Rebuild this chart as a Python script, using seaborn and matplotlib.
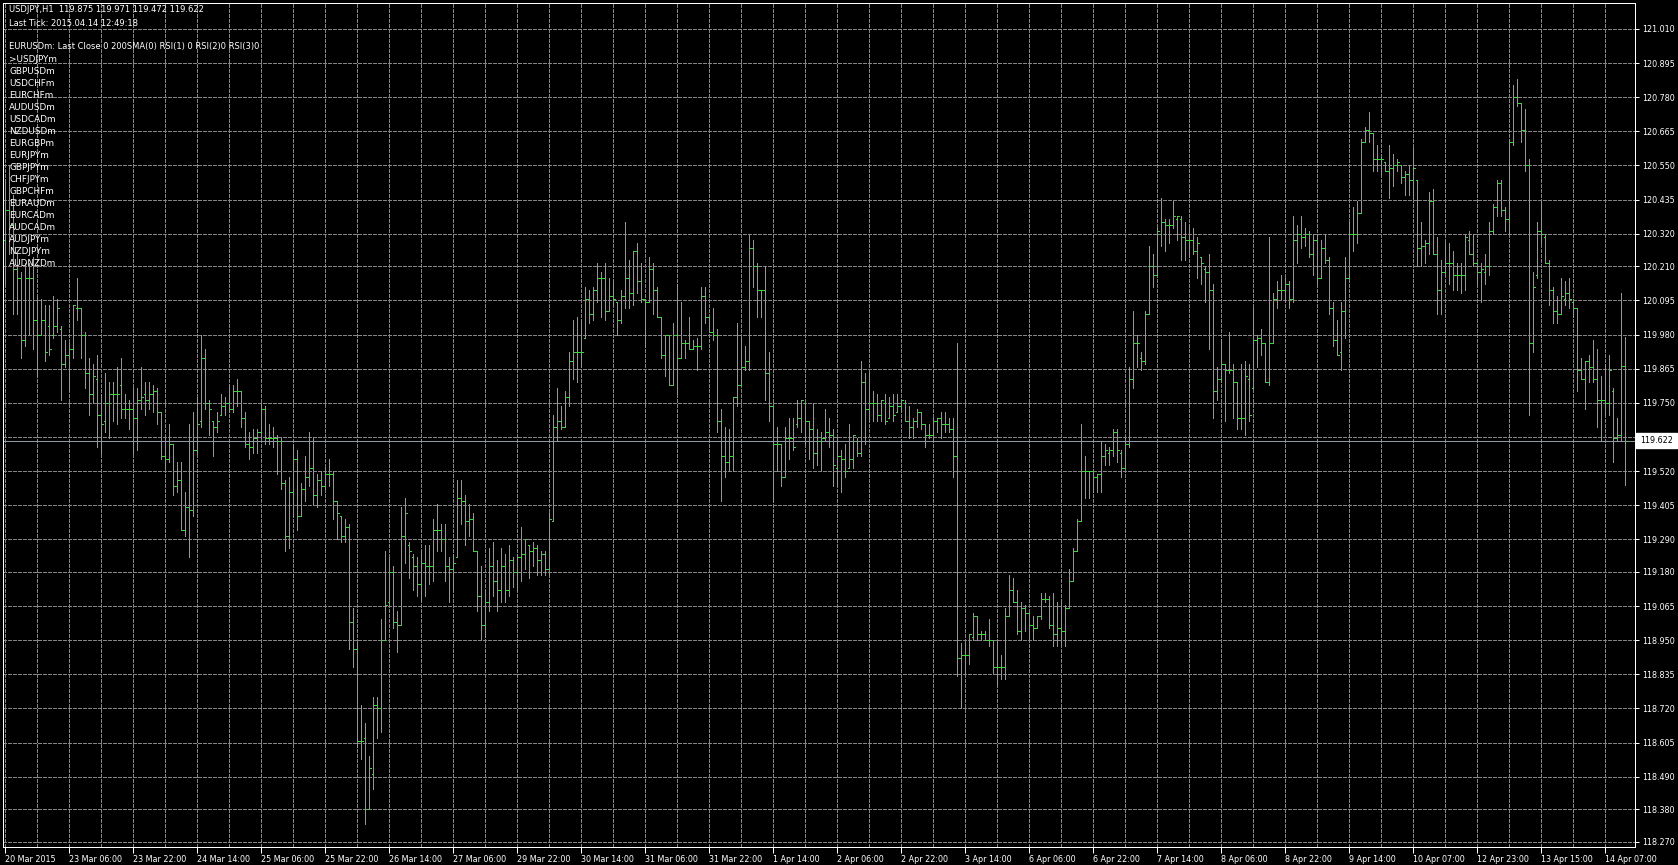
#!/usr/bin/env python

"""
USDJPY H1 bar chart, MetaTrader style (green bars on black).
"""

import matplotlib
matplotlib.use("Agg")
import matplotlib.pyplot as plt
from matplotlib.patches import Rectangle
import numpy as np
import pandas as pd
import seaborn as sns

W, H = 1678, 865

# hourly OHLC, 20 Mar 2015 14:00 -> 14 Apr 2015 12:00
opens = [
    120.30, 120.40, 120.35, 120.20, 120.17, 119.96, 120.17, 120.17, 120.03, 119.98,
    120.03, 120.01, 119.98, 120.01, 120.00, 119.88, 119.91, 119.93, 120.07, 120.07,
    119.98, 119.85, 119.78, 119.83, 119.71, 119.69, 119.75, 119.78, 119.78, 119.81,
    119.73, 119.73, 119.73, 119.70, 119.76, 119.78, 119.76, 119.78, 119.79, 119.72,
    119.57, 119.56, 119.61, 119.47, 119.49, 119.32, 119.40, 119.39, 119.59, 119.69,
    119.90, 119.75, 119.69, 119.67, 119.71, 119.74, 119.75, 119.73, 119.79, 119.79,
    119.70, 119.61, 119.60, 119.63, 119.65, 119.73, 119.63, 119.63, 119.63, 119.62,
    119.48, 119.30, 119.45, 119.56, 119.37, 119.46, 119.50, 119.53, 119.44, 119.49,
    119.47, 119.51, 119.51, 119.42, 119.37, 119.30, 119.33, 119.01, 118.92, 118.61,
    118.62, 118.38, 118.50, 118.73, 118.72, 118.95, 119.08, 119.18, 119.01, 119.00,
    119.30, 119.27, 119.23, 119.20, 119.14, 119.21, 119.20, 119.20, 119.32, 119.32,
    119.29, 119.20, 119.19, 119.23, 119.43, 119.42, 119.35, 119.36, 119.25, 119.10,
    119.00, 119.08, 119.20, 119.15, 119.12, 119.20, 119.12, 119.22, 119.18, 119.23,
    119.24, 119.27, 119.25, 119.26, 119.22, 119.24, 119.19, 119.35, 119.67, 119.69,
    119.67, 119.77, 119.89, 119.92, 119.92, 119.97, 120.10, 120.05, 120.13, 120.17,
    120.17, 120.06, 120.11, 120.09, 120.03, 120.11, 120.17, 120.12, 120.26, 120.16,
    120.10, 120.09, 120.20, 120.13, 120.04, 119.91, 119.98, 119.81, 119.98, 119.90,
    119.95, 119.95, 119.93, 119.94, 119.94, 120.11, 120.04, 119.99, 119.98, 119.69,
    119.57, 119.55, 119.57, 119.77, 119.81, 119.87, 119.89, 120.27, 120.21, 120.13,
    120.13, 119.85, 119.74, 119.61, 119.61, 119.50, 119.63, 119.63, 119.68, 119.70,
    119.75, 119.69, 119.66, 119.58, 119.62, 119.63, 119.65, 119.64, 119.53, 119.57,
    119.56, 119.53, 119.56, 119.62, 119.58, 119.82, 119.73, 119.75, 119.75, 119.71,
    119.75, 119.70, 119.74, 119.72, 119.74, 119.75, 119.69, 119.67, 119.69, 119.72,
    119.68, 119.64, 119.64, 119.69, 119.70, 119.68, 119.68, 119.66, 119.57, 118.89,
    118.90, 118.90, 118.96, 119.03, 118.97, 118.97, 118.95, 118.95, 118.86, 118.86,
    118.86, 119.03, 119.12, 119.08, 118.98, 119.06, 119.04, 119.00, 118.99, 119.03,
    119.09, 119.09, 119.00, 118.97, 118.99, 118.98, 119.06, 119.15, 119.25, 119.35,
    119.52, 119.52, 119.52, 119.50, 119.51, 119.57, 119.58, 119.59, 119.65, 119.58,
    119.53, 119.61, 119.83, 119.95, 119.90, 119.89, 120.05, 120.21, 120.18, 120.32,
    120.36, 120.35, 120.35, 120.37, 120.37, 120.31, 120.30, 120.30, 120.26, 120.24,
    120.20, 120.19, 120.13, 119.79, 119.83, 119.88, 119.86, 119.86, 119.82, 119.70,
    119.70, 119.83, 119.80, 119.96, 119.97, 119.95, 119.82, 119.95, 120.10, 120.13,
    120.13, 120.15, 120.10, 120.30, 120.32, 120.31, 120.32, 120.25, 120.30, 120.17,
    120.27, 120.23, 120.07, 119.96, 119.92, 120.06, 120.17, 120.32, 120.32, 120.39,
    120.63, 120.67, 120.66, 120.57, 120.57, 120.56, 120.53, 120.54, 120.55, 120.55,
    120.51, 120.52, 120.50, 120.50, 120.27, 120.28, 120.29, 120.43, 120.25, 120.13,
    120.19, 120.22, 120.22, 120.18, 120.18, 120.18, 120.30, 120.25, 120.22, 120.19,
    120.19, 120.21, 120.33, 120.41, 120.49, 120.40, 120.37, 120.63, 120.78, 120.76,
    120.67, 120.55, 119.95, 120.18, 120.33, 120.31, 120.22, 120.13, 120.06, 120.05,
    120.10, 120.12, 120.09, 120.07, 119.86, 119.83, 119.89, 119.87, 119.83, 119.76,
    119.76, 119.75, 119.79, 119.63, 119.64, 119.875,
]
highs = [
    120.50, 120.55, 120.45, 120.25, 120.19, 120.22, 120.22, 120.24, 120.11, 120.10,
    120.08, 120.08, 120.11, 120.10, 120.01, 119.96, 119.95, 120.08, 120.17, 120.07,
    119.99, 119.90, 119.88, 119.91, 119.78, 119.85, 119.82, 119.82, 119.87, 119.90,
    119.78, 119.76, 119.80, 119.80, 119.87, 119.82, 119.82, 119.81, 119.80, 119.72,
    119.63, 119.68, 119.61, 119.55, 119.55, 119.45, 119.68, 119.72, 119.77, 119.98,
    119.93, 119.76, 119.69, 119.72, 119.78, 119.77, 119.81, 119.81, 119.83, 119.79,
    119.72, 119.65, 119.66, 119.66, 119.75, 119.74, 119.68, 119.67, 119.64, 119.63,
    119.49, 119.50, 119.61, 119.59, 119.48, 119.57, 119.65, 119.63, 119.51, 119.52,
    119.53, 119.56, 119.52, 119.42, 119.37, 119.36, 119.34, 119.06, 118.94, 118.73,
    118.67, 118.56, 118.76, 118.76, 119.02, 119.25, 119.23, 119.20, 119.05, 119.40,
    119.43, 119.28, 119.24, 119.23, 119.25, 119.27, 119.27, 119.36, 119.41, 119.34,
    119.34, 119.23, 119.24, 119.49, 119.49, 119.44, 119.41, 119.38, 119.25, 119.20,
    119.12, 119.26, 119.28, 119.22, 119.26, 119.24, 119.27, 119.23, 119.24, 119.33,
    119.29, 119.27, 119.28, 119.27, 119.25, 119.25, 119.38, 119.71, 119.80, 119.74,
    119.79, 119.92, 120.03, 120.04, 120.03, 120.14, 120.13, 120.14, 120.22, 120.19,
    120.22, 120.17, 120.16, 120.09, 120.13, 120.36, 120.23, 120.26, 120.29, 120.22,
    120.10, 120.24, 120.22, 120.14, 120.04, 119.98, 119.98, 120.02, 120.15, 120.09,
    119.96, 120.04, 119.96, 119.97, 120.14, 120.14, 120.04, 120.07, 120.00, 119.73,
    119.67, 119.66, 119.77, 120.02, 119.97, 119.94, 120.32, 120.30, 120.22, 120.13,
    120.21, 119.92, 119.74, 119.67, 119.61, 119.67, 119.70, 119.70, 119.76, 119.76,
    119.75, 119.69, 119.75, 119.66, 119.65, 119.73, 119.70, 119.66, 119.63, 119.59,
    119.61, 119.68, 119.64, 119.63, 119.89, 119.85, 119.85, 119.79, 119.78, 119.76,
    119.78, 119.77, 119.78, 119.78, 119.76, 119.76, 119.74, 119.70, 119.73, 119.72,
    119.68, 119.68, 119.70, 119.70, 119.72, 119.72, 119.70, 119.70, 119.95, 118.94,
    118.94, 118.97, 119.04, 119.03, 118.98, 118.98, 119.02, 118.95, 118.95, 118.90,
    119.06, 119.17, 119.16, 119.12, 119.08, 119.07, 119.04, 119.03, 119.03, 119.11,
    119.11, 119.10, 119.11, 119.08, 119.09, 119.07, 119.19, 119.26, 119.36, 119.68,
    119.57, 119.52, 119.52, 119.51, 119.62, 119.61, 119.60, 119.66, 119.66, 119.59,
    119.63, 119.87, 120.06, 119.98, 119.92, 120.06, 120.28, 120.25, 120.34, 120.44,
    120.37, 120.37, 120.43, 120.38, 120.38, 120.36, 120.35, 120.34, 120.31, 120.24,
    120.21, 120.25, 120.15, 119.87, 119.96, 119.88, 119.99, 119.88, 119.82, 119.88,
    119.89, 119.88, 120.07, 119.98, 120.00, 119.95, 120.31, 120.12, 120.16, 120.18,
    120.17, 120.16, 120.38, 120.35, 120.38, 120.34, 120.33, 120.32, 120.32, 120.30,
    120.32, 120.24, 120.09, 120.03, 120.09, 120.24, 120.36, 120.41, 120.43, 120.64,
    120.68, 120.73, 120.66, 120.62, 120.58, 120.56, 120.62, 120.59, 120.57, 120.55,
    120.53, 120.55, 120.61, 120.50, 120.36, 120.30, 120.46, 120.47, 120.31, 120.23,
    120.29, 120.29, 120.26, 120.22, 120.22, 120.32, 120.33, 120.32, 120.22, 120.22,
    120.25, 120.36, 120.42, 120.50, 120.50, 120.41, 120.64, 120.82, 120.84, 120.76,
    120.74, 120.57, 120.19, 120.36, 120.43, 120.32, 120.23, 120.14, 120.11, 120.17,
    120.16, 120.17, 120.10, 120.07, 119.90, 119.89, 119.91, 119.96, 119.93, 119.84,
    119.88, 119.91, 119.80, 119.70, 120.12, 119.971,
]
lows = [
    120.15, 120.25, 120.05, 120.05, 119.90, 119.94, 119.98, 119.93, 119.84, 119.98,
    119.89, 119.91, 119.97, 119.99, 119.76, 119.87, 119.79, 119.90, 120.03, 119.90,
    119.80, 119.71, 119.75, 119.60, 119.58, 119.65, 119.63, 119.69, 119.68, 119.70,
    119.70, 119.66, 119.58, 119.59, 119.73, 119.71, 119.73, 119.72, 119.68, 119.56,
    119.53, 119.55, 119.44, 119.45, 119.32, 119.30, 119.23, 119.37, 119.58, 119.67,
    119.73, 119.64, 119.57, 119.65, 119.71, 119.71, 119.72, 119.72, 119.74, 119.67,
    119.60, 119.56, 119.58, 119.58, 119.63, 119.61, 119.61, 119.60, 119.51, 119.46,
    119.25, 119.26, 119.37, 119.32, 119.37, 119.42, 119.47, 119.41, 119.40, 119.44,
    119.46, 119.47, 119.36, 119.29, 119.28, 119.28, 118.92, 118.86, 118.59, 118.55,
    118.33, 118.38, 118.45, 118.62, 118.64, 118.95, 119.07, 118.99, 118.91, 119.00,
    119.21, 119.16, 119.12, 119.10, 119.08, 119.10, 119.14, 119.15, 119.25, 119.25,
    119.15, 119.08, 119.12, 119.23, 119.34, 119.27, 119.30, 119.25, 119.05, 118.95,
    118.96, 119.05, 119.10, 119.05, 119.08, 119.08, 119.10, 119.13, 119.12, 119.15,
    119.19, 119.16, 119.20, 119.17, 119.17, 119.17, 119.17, 119.35, 119.62, 119.66,
    119.67, 119.74, 119.83, 119.82, 119.87, 119.97, 120.02, 120.03, 120.09, 120.04,
    120.03, 120.06, 120.08, 119.98, 120.02, 120.07, 120.07, 120.08, 120.12, 120.09,
    119.94, 120.09, 120.05, 120.04, 119.90, 119.84, 119.81, 119.81, 119.78, 119.90,
    119.90, 119.93, 119.93, 119.86, 119.93, 120.02, 119.99, 119.96, 119.65, 119.42,
    119.50, 119.52, 119.52, 119.74, 119.81, 119.86, 119.86, 120.14, 120.04, 120.04,
    119.76, 119.69, 119.42, 119.52, 119.47, 119.50, 119.56, 119.59, 119.67, 119.65,
    119.61, 119.56, 119.53, 119.54, 119.52, 119.62, 119.60, 119.47, 119.47, 119.45,
    119.50, 119.53, 119.53, 119.57, 119.57, 119.61, 119.69, 119.69, 119.69, 119.69,
    119.68, 119.70, 119.69, 119.72, 119.72, 119.69, 119.63, 119.63, 119.67, 119.66,
    119.60, 119.63, 119.63, 119.65, 119.63, 119.65, 119.65, 119.50, 118.83, 118.72,
    118.84, 118.87, 118.95, 118.95, 118.95, 118.95, 118.93, 118.84, 118.80, 118.82,
    118.82, 119.03, 119.08, 118.97, 118.95, 118.98, 118.95, 118.95, 118.99, 119.02,
    119.08, 118.99, 118.93, 118.93, 118.94, 118.93, 119.06, 119.15, 119.25, 119.35,
    119.43, 119.43, 119.45, 119.45, 119.45, 119.54, 119.54, 119.57, 119.55, 119.50,
    119.53, 119.60, 119.80, 119.87, 119.86, 119.88, 120.05, 120.14, 120.18, 120.28,
    120.26, 120.29, 120.34, 120.30, 120.23, 120.23, 120.24, 120.25, 120.17, 120.15,
    120.09, 119.93, 119.70, 119.76, 119.82, 119.69, 119.85, 119.70, 119.66, 119.66,
    119.64, 119.69, 119.80, 119.87, 119.91, 119.82, 119.81, 119.95, 120.07, 120.10,
    120.09, 120.07, 120.09, 120.22, 120.27, 120.28, 120.24, 120.18, 120.15, 120.17,
    120.22, 120.05, 119.94, 119.91, 119.86, 119.97, 120.17, 120.26, 120.29, 120.39,
    120.63, 120.63, 120.53, 120.53, 120.52, 120.53, 120.44, 120.48, 120.53, 120.49,
    120.45, 120.45, 120.44, 120.21, 120.21, 120.22, 120.25, 120.25, 120.05, 120.05,
    120.18, 120.15, 120.13, 120.13, 120.12, 120.13, 120.25, 120.21, 120.15, 120.09,
    120.15, 120.18, 120.32, 120.38, 120.38, 120.33, 120.32, 120.62, 120.75, 120.63,
    120.53, 119.71, 119.92, 120.17, 120.29, 120.22, 120.08, 120.02, 120.02, 120.05,
    120.08, 120.07, 120.04, 119.79, 119.83, 119.73, 119.82, 119.82, 119.67, 119.62,
    119.71, 119.71, 119.55, 119.62, 119.62, 119.472,
]
closes = [
    120.40, 120.35, 120.20, 120.17, 119.96, 120.17, 120.17, 120.03, 119.98, 120.03,
    119.92, 119.93, 120.01, 120.07, 119.88, 119.91, 119.93, 120.08, 120.07, 119.98,
    119.85, 119.78, 119.84, 119.71, 119.68, 119.75, 119.78, 119.78, 119.78, 119.73,
    119.73, 119.73, 119.70, 119.76, 119.77, 119.76, 119.78, 119.79, 119.72, 119.57,
    119.56, 119.61, 119.47, 119.49, 119.32, 119.40, 119.39, 119.59, 119.68, 119.90,
    119.75, 119.73, 119.67, 119.69, 119.74, 119.75, 119.73, 119.79, 119.79, 119.70,
    119.61, 119.60, 119.63, 119.65, 119.73, 119.63, 119.63, 119.63, 119.62, 119.48,
    119.30, 119.45, 119.56, 119.37, 119.46, 119.50, 119.53, 119.44, 119.49, 119.47,
    119.51, 119.51, 119.42, 119.38, 119.30, 119.33, 119.01, 118.92, 118.61, 118.61,
    118.38, 118.52, 118.73, 118.72, 118.95, 119.07, 119.18, 119.01, 119.00, 119.30,
    119.38, 119.25, 119.20, 119.14, 119.21, 119.20, 119.20, 119.32, 119.32, 119.29,
    119.20, 119.19, 119.21, 119.43, 119.42, 119.35, 119.36, 119.25, 119.10, 119.00,
    119.08, 119.20, 119.15, 119.12, 119.20, 119.12, 119.22, 119.18, 119.23, 119.24,
    119.29, 119.25, 119.26, 119.22, 119.24, 119.19, 119.36, 119.67, 119.69, 119.67,
    119.77, 119.89, 119.92, 119.92, 119.92, 120.10, 120.05, 120.13, 120.17, 120.17,
    120.06, 120.11, 120.10, 120.03, 120.11, 120.17, 120.12, 120.26, 120.16, 120.10,
    120.09, 120.20, 120.13, 120.04, 119.91, 119.98, 119.81, 119.98, 119.90, 119.95,
    119.95, 119.93, 119.94, 119.94, 120.11, 120.04, 119.99, 119.98, 119.69, 119.57,
    119.55, 119.57, 119.77, 119.81, 119.87, 119.89, 120.27, 120.21, 120.13, 120.13,
    119.85, 119.74, 119.61, 119.61, 119.50, 119.63, 119.63, 119.60, 119.70, 119.76,
    119.69, 119.66, 119.58, 119.62, 119.63, 119.65, 119.64, 119.54, 119.57, 119.56,
    119.52, 119.56, 119.64, 119.58, 119.82, 119.73, 119.75, 119.75, 119.71, 119.76,
    119.69, 119.74, 119.71, 119.74, 119.76, 119.69, 119.67, 119.69, 119.72, 119.68,
    119.64, 119.64, 119.69, 119.70, 119.68, 119.68, 119.66, 119.57, 118.89, 118.90,
    118.90, 118.97, 119.03, 118.97, 118.97, 118.95, 118.95, 118.86, 118.86, 118.86,
    119.03, 119.12, 119.08, 118.98, 119.06, 119.04, 119.00, 118.99, 119.03, 119.09,
    119.09, 119.00, 118.97, 118.99, 118.98, 119.06, 119.15, 119.25, 119.35, 119.52,
    119.52, 119.52, 119.50, 119.51, 119.57, 119.59, 119.59, 119.65, 119.59, 119.53,
    119.61, 119.83, 119.95, 119.95, 119.89, 120.05, 120.21, 120.18, 120.33, 120.36,
    120.35, 120.35, 120.38, 120.38, 120.31, 120.30, 120.30, 120.26, 120.29, 120.22,
    120.19, 120.13, 119.79, 119.83, 119.88, 119.86, 119.86, 119.82, 119.70, 119.70,
    119.84, 119.71, 119.96, 119.97, 119.95, 119.82, 119.95, 120.10, 120.13, 120.13,
    120.15, 120.10, 120.30, 120.32, 120.31, 120.32, 120.25, 120.30, 120.17, 120.27,
    120.23, 120.07, 119.96, 119.91, 120.06, 120.17, 120.32, 120.32, 120.39, 120.63,
    120.67, 120.66, 120.57, 120.57, 120.57, 120.53, 120.54, 120.55, 120.56, 120.51,
    120.52, 120.50, 120.54, 120.27, 120.28, 120.29, 120.43, 120.25, 120.13, 120.19,
    120.22, 120.22, 120.18, 120.18, 120.18, 120.31, 120.25, 120.22, 120.19, 120.20,
    120.21, 120.33, 120.41, 120.49, 120.40, 120.37, 120.63, 120.78, 120.76, 120.67,
    120.55, 119.95, 120.14, 120.33, 120.32, 120.22, 120.13, 120.06, 120.05, 120.11,
    120.12, 120.10, 120.07, 119.86, 119.83, 119.89, 119.87, 119.83, 119.76, 119.76,
    119.75, 119.86, 119.63, 119.64, 119.875, 119.622,
]

time_labels = [
    "20 Mar 2015", "23 Mar 06:00", "23 Mar 22:00", "24 Mar 14:00", "25 Mar 06:00",
    "25 Mar 22:00", "26 Mar 14:00", "27 Mar 06:00", "29 Mar 22:00", "30 Mar 14:00",
    "31 Mar 06:00", "31 Mar 22:00", "1 Apr 14:00", "2 Apr 06:00", "2 Apr 22:00",
    "3 Apr 14:00", "6 Apr 06:00", "6 Apr 22:00", "7 Apr 14:00", "8 Apr 06:00",
    "8 Apr 22:00", "9 Apr 14:00", "10 Apr 07:00", "12 Apr 23:00", "13 Apr 15:00",
    "14 Apr 07:00",
]
price_levels = [
    121.010, 120.895, 120.780, 120.665, 120.550, 120.435, 120.320, 120.210,
    120.095, 119.980, 119.865, 119.750, 119.635, 119.520, 119.405, 119.290,
    119.180, 119.065, 118.950, 118.835, 118.720, 118.605, 118.490, 118.380,
    118.270,
]
last_price = 119.622

header = ["USDJPY,H1  119.875 119.971 119.472 119.622",
          "Last Tick: 2015.04.14 12:49:18"]
info_line = "EURUSDm: Last Close 0 200SMA(0) RSI(1) 0 RSI(2)0 RSI(3)0"
pairs = [">USDJPYm", "GBPUSDm", "USDCHFm", "EURCHFm", "AUDUSDm", "USDCADm",
         "NZDUSDm", "EURGBPm", "EURJPYm", "GBPJPYm", "CHFJPYm", "GBPCHFm",
         "EURAUDm", "EURCADm", "AUDCADm", "AUDJPYm", "NZDJPYm", "AUDNZDm"]

BAR = "#3ad63a"
GRID = "#858585"

sns.set_theme(style="dark", rc={"axes.facecolor": "black",
                                "figure.facecolor": "black"})
plt.rcParams["font.family"] = ["DejaVu Sans"]
plt.rcParams["lines.antialiased"] = False

df = pd.DataFrame({"open": opens, "high": highs, "low": lows, "close": closes})
df["bar"] = np.arange(len(df))

fig = plt.figure(figsize=(W / 100, H / 100), dpi=100)
ax = fig.add_axes([3 / W, 18 / H, 1632 / W, 844.5 / H])
ax.set_facecolor("black")

px = 0.72  # one pixel in points
ax.vlines(df["bar"], df["low"], df["high"], colors=BAR, lw=px,
          antialiased=False, zorder=3)
ax.hlines(df["open"], df["bar"] - 0.45, df["bar"], colors=BAR, lw=px,
          antialiased=False, zorder=3)
ax.hlines(df["close"], df["bar"], df["bar"] + 0.45, colors=BAR, lw=px,
          antialiased=False, zorder=3)
ax.axhline(last_price, color="#8d98a4", lw=px, zorder=2)

ax.set_xlim(-0.58, 407.4)
ax.set_ylim(118.253, 121.099)

major_x = [16 * i for i in range(len(time_labels))]
ax.set_xticks(major_x, labels=time_labels)
ax.set_xticks([8 * i for i in range(51)], minor=True)
for lab in ax.get_xticklabels():
    lab.set_horizontalalignment("left")
ax.set_yticks(price_levels, labels=[f"{v:.3f}" for v in price_levels])
ax.yaxis.tick_right()

ax.tick_params(axis="x", which="major", length=4, width=px, colors="white",
               labelsize=5.8, pad=2, direction="out", bottom=True)
ax.tick_params(axis="x", which="minor", length=0)
ax.tick_params(axis="y", which="major", length=3, width=px, colors="white",
               labelsize=5.8, pad=2, direction="out", right=True, left=False)

ax.set_axisbelow(True)
ax.xaxis.grid(True, which="both", color=GRID, ls=(0, (3, 2)), lw=px)
ax.yaxis.grid(True, which="major", color=GRID, ls=(0, (3, 2)), lw=px)
for sp in ax.spines.values():
    sp.set_visible(True)
    sp.set_color("white")
    sp.set_linewidth(px)

# last price tag over the right scale (covers the 119.635 level label)
y_tag = fig.transFigure.inverted().transform(
    ax.transData.transform((0, last_price)))[1]
fig.patches.append(Rectangle((1636 / W, y_tag - 7.5 / H), 41 / W, 15 / H,
                             transform=fig.transFigure, fc="white", ec="white",
                             zorder=20))
fig.text(1656.5 / W, y_tag, f"{last_price:.3f}", ha="center", va="center",
         fontsize=5.8, color="black", zorder=21)

# chart comments, top left
def put(txt, ypix, size):
    fig.text(9 / W, 1 - ypix / H, txt, color="white", fontsize=size,
             ha="left", va="center")

put(header[0], 9.5, 6)
put(header[1], 23.5, 6)
put(info_line, 47, 6)
for k, name in enumerate(pairs):
    put(name, 59 + 12 * k, 6.4)

fig.savefig("out.png", dpi=100, facecolor="black")
